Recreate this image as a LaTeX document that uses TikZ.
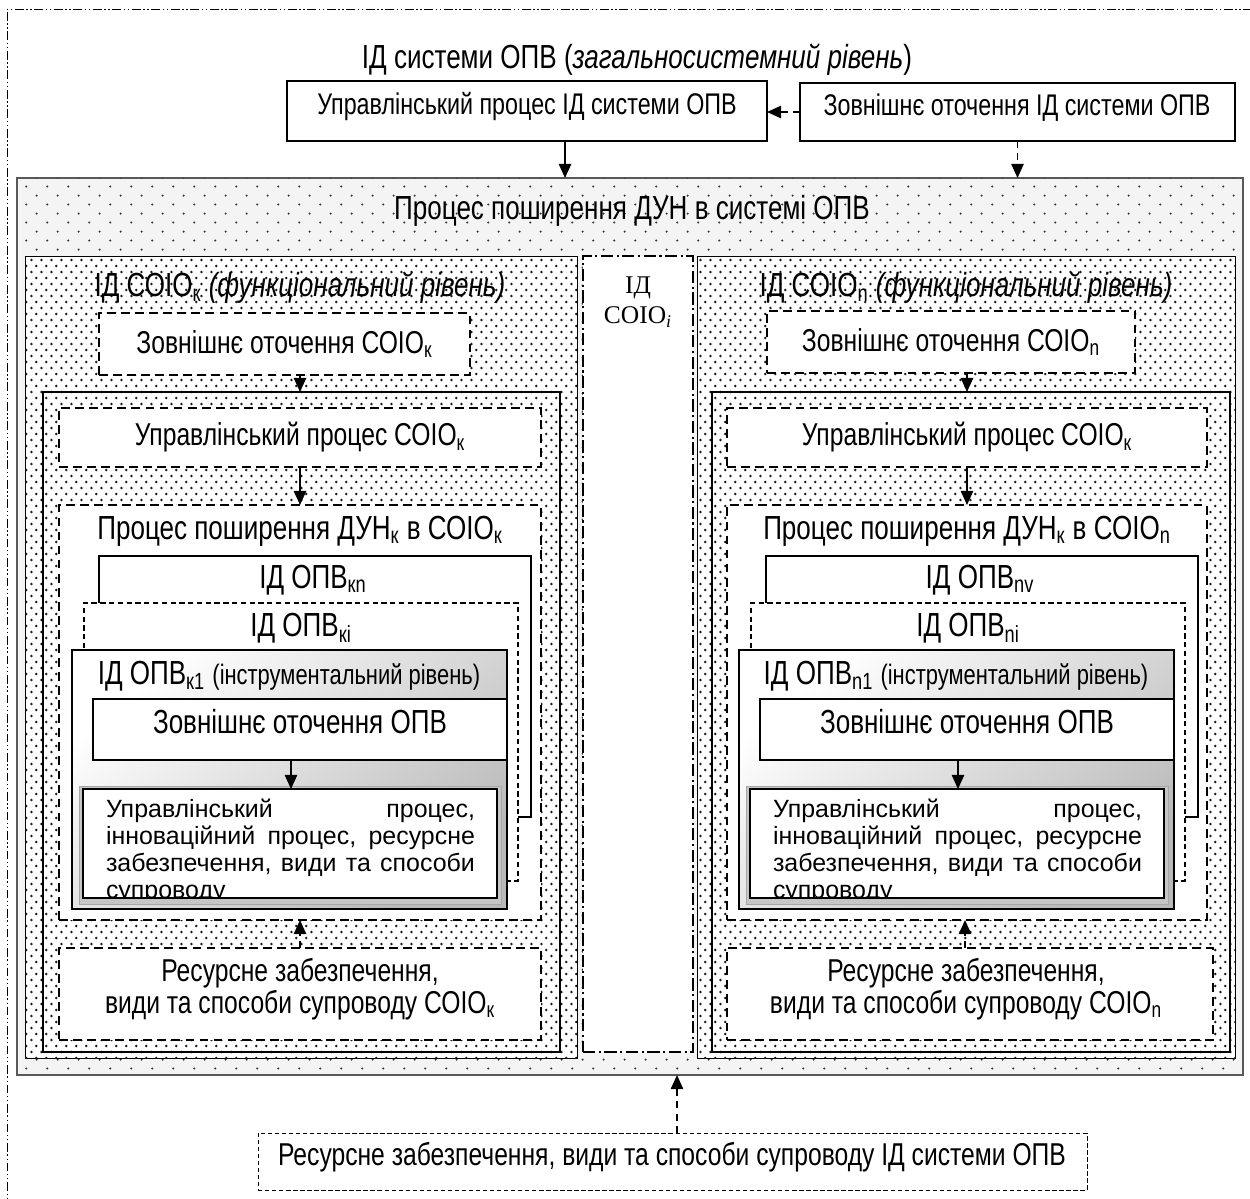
\documentclass[tikz,border=0pt]{standalone}
\usepackage{fontspec}
\setmainfont[FakeStretch=0.78]{Liberation Sans}
\newfontfamily\widesans{Liberation Sans}
\newfontfamily\tnr{Liberation Serif}
\usetikzlibrary{arrows.meta,patterns,fit}

\pgfdeclarepatternformonly{sparsedots}{\pgfpointorigin}{\pgfpoint{11.9pt}{10.2pt}}{\pgfpoint{11.9pt}{10.2pt}}{%
  \pgfpathcircle{\pgfpoint{3pt}{2.55pt}}{0.65pt}%
  \pgfpathcircle{\pgfpoint{8.95pt}{7.65pt}}{0.65pt}%
  \pgfusepath{fill}}
\pgfdeclarepatternformonly{densedots}{\pgfpointorigin}{\pgfpoint{5.6pt}{6.8pt}}{\pgfpoint{5.6pt}{6.8pt}}{%
  \pgfpathcircle{\pgfpoint{1.4pt}{1.7pt}}{0.78pt}%
  \pgfpathcircle{\pgfpoint{4.2pt}{5.1pt}}{0.78pt}%
  \pgfusepath{fill}}

\tikzset{
  every node/.style={inner sep=0pt, outer sep=0pt},
  frame/.style={draw=black, line width=0.5pt, dash pattern=on 5pt off 1.5pt on 0.8pt off 1.5pt on 0.8pt off 1.5pt},
  topbox/.style={draw=black, line width=0.8pt, fill=white},
  bigbox/.style={draw=gray!70!black, line width=0.7pt, fill=gray!9, postaction={pattern=sparsedots, pattern color=black!80}},
  panel/.style={draw=black, line width=0.5pt, fill=white, postaction={pattern=densedots, pattern color=black!90}},
  innerbox/.style={draw=black, line width=0.6pt},
  column/.style={draw=black, line width=1pt, fill=white, dash pattern=on 7pt off 2pt on 1.2pt off 2pt},
  dbox/.style={draw=black, line width=1pt, dash pattern=on 5pt off 3pt, fill=white},
  thindbox/.style={draw=black, line width=0.7pt, dash pattern=on 3pt off 2pt, fill=white},
  bottombox/.style={draw=black, line width=0.5pt, dash pattern=on 2.5pt off 1.5pt, fill=white},
  opvbox/.style={draw=black, line width=0.8pt, fill=white},
  gradbox/.style={draw=black, line width=0.8pt, shading=axis, top color=white, bottom color=gray!55, shading angle=40},
  bevel/.style={draw=gray!70, line width=0.5pt, fill=gray!45},
  whitebox/.style={draw=black, line width=0.8pt, fill=white},
  arr/.style={line width=0.9pt, -{Triangle[length=8pt,width=7pt]}},
  darr/.style={line width=0.9pt, dash pattern=on 4pt off 3pt, -{Triangle[length=8pt,width=7pt]}},
  t19/.style={font=\fontsize{19}{22}\selectfont},
  t18/.style={font=\fontsize{18}{21}\selectfont},
  t17/.style={font=\fontsize{17}{20}\selectfont},
  two/.style={font=\fontsize{18}{13.8}\selectfont, align=center},
  uptext/.style={font=\widesans\fontsize{14.2}{15.3}\selectfont, text width=210pt, align=left},
  sertext/.style={font=\tnr\fontsize{14.5}{17}\selectfont, align=center},
}
\newcommand{\upbody}{%
  \makebox[\linewidth][l]{Управлінський\hfill процес,}\\
  \makebox[\linewidth][l]{інноваційний\hfill процес,\hfill ресурсне}\\
  \makebox[\linewidth][l]{забезпечення,\hfill види\hfill та\hfill способи}\\
  супроводу}

\begin{document}
\begin{tikzpicture}[x=0.02cm,y=-0.02cm]
\useasboundingbox (0,0) rectangle (1250,1198);
\clip (0,0) rectangle (1250,1198);
\fill[white] (0,0) rectangle (1250,1198);

% outer frame
\node[fit={(7,9)(1320,1300)}, frame] (F) {};

% top level
\node[t19] (T) at (637,60) {ІД системи ОПВ (\textit{загальносистемний рівень})};
\node[fit={(287,81)(767,141)}, topbox] (A) {};
\node[t17] (At) at (527,107) {Управлінський процес ІД системи ОПВ};
\node[fit={(800,83)(1235,141)}, topbox] (B) {};
\node[t17] (Bt) at (1017,108) {Зовнішнє оточення ІД системи ОПВ};

% big process box
\node[fit={(17,178)(1243,1075)}, bigbox] (P) {};
\node[t19] (Pt) at (632,211) {Процес поширення ДУН в системі ОПВ};

\coordinate (xa) at (565,0);
\draw[darr] (B.west) -- (B.west -| A.east);
\draw[arr] (A.south -| xa) -- (P.north -| xa);
\draw[darr] (B.south) -- (P.north -| B.south);

% center column
\node[fit={(583,256)(693,1052)}, column] (C) {};
\node[sertext] (Ct) at (638,302) {ІД\\СОІО\textsubscript{\textit{i}}};

%================ left panel
\node[fit={(25,256)(577,1058)}, panel] (L) {};
\node[t19] (Lt) at (300,288) {ІД СОІО\textsubscript{к} \textit{(функціональний рівень)}};
\node[fit={(99,313)(470,375)}, dbox] (EK) {};
\node[t18] (EKt) at (EK.center) {Зовнішнє оточення СОІО\textsubscript{к}};
\node[fit={(43,392)(560,1052)}, innerbox] (IL) {};
\coordinate (xl) at (300,0);
\draw[darr] (EK.south -| xl) -- (IL.north -| xl);

\node[fit={(59,408)(541,467)}, dbox] (UK) {};
\node[t18] (UKt) at (UK.center) {Управлінський процес СОІО\textsubscript{к}};
\node[fit={(59,505)(541,920)}, dbox] (PK) {};
\draw[arr] (UK.south) -- (PK.north);
\node[t19] (PKt) at (300,531) {Процес поширення ДУН\textsubscript{к} в СОІО\textsubscript{к}};

\node[fit={(99,556)(531,817)}, opvbox] (Okn) {};
\node[t19] (Oknt) at (313,580) {ІД ОПВ\textsubscript{кn}};
\node[fit={(84,603)(518,881)}, thindbox] (Oki) {};
\node[t19] (Okit) at (301,628) {ІД ОПВ\textsubscript{кі}};
\node[fit={(72,650)(507,909)}, gradbox] (Ok1) {};
\node[t19] (Ok1t) at (289,676) {ІД ОПВ\textsubscript{к1} {\fontsize{16}{18}\selectfont(інструментальний рівень)}};
\node[fit={(93,699)(507,760)}, whitebox] (EOk) {};
\node[t19] (EOkt) at (300,722) {Зовнішнє оточення ОПВ};
\node[fit={(79,786)(501,904)}, bevel] (UPbk) {};
\node[fit={(83,789)(497,898)}, whitebox] (UPk) {};
\coordinate (xk) at (291,0);
\draw[arr] (EOk.south -| xk) -- (UPk.north -| xk);
\begin{scope}
\clip (UPk.south west) rectangle (UPk.north east);
\node[uptext, anchor=north west] (UPkt) at (106,799) {\upbody};
\end{scope}

\node[fit={(59,948)(541,1040)}, dbox] (RK) {};
\node[two] (RKt) at (300,989) {Ресурсне забезпечення,\\ види та способи супроводу СОІО\textsubscript{к}};
\draw[darr] (RK.north) -- (PK.south);

%================ right panel
\node[fit={(697,256)(1235,1058)}, panel] (R) {};
\node[t19] (Rt) at (966,288) {ІД СОІО\textsubscript{n} \textit{(функціональний рівень)}};
\node[fit={(767,311)(1135,373)}, dbox] (EN) {};
\node[t18] (ENt) at (EN.center) {Зовнішнє оточення СОІО\textsubscript{n}};
\node[fit={(712,392)(1230,1052)}, innerbox] (IR) {};
\coordinate (xr) at (967,0);
\draw[darr] (EN.south -| xr) -- (IR.north -| xr);

\node[fit={(727,408)(1207,467)}, dbox] (UN) {};
\node[t18] (UNt) at (UN.center) {Управлінський процес СОІО\textsubscript{к}};
\node[fit={(727,505)(1207,920)}, dbox] (PN) {};
\draw[arr] (UN.south) -- (PN.north);
\node[t19] (PNt) at (967,531) {Процес поширення ДУН\textsubscript{к} в СОІО\textsubscript{n}};

\node[fit={(766,556)(1198,817)}, opvbox] (Onv) {};
\node[t19] (Onvt) at (980,580) {ІД ОПВ\textsubscript{nv}};
\node[fit={(751,603)(1185,881)}, thindbox] (Oni) {};
\node[t19] (Onit) at (968,628) {ІД ОПВ\textsubscript{ni}};
\node[fit={(739,650)(1174,909)}, gradbox] (On1) {};
\node[t19] (On1t) at (956,676) {ІД ОПВ\textsubscript{n1} {\fontsize{16}{18}\selectfont(інструментальний рівень)}};
\node[fit={(760,699)(1174,760)}, whitebox] (EOn) {};
\node[t19] (EOnt) at (967,722) {Зовнішнє оточення ОПВ};
\node[fit={(746,786)(1168,904)}, bevel] (UPbn) {};
\node[fit={(750,789)(1164,898)}, whitebox] (UPn) {};
\coordinate (xn) at (958,0);
\draw[arr] (EOn.south -| xn) -- (UPn.north -| xn);
\begin{scope}
\clip (UPn.south west) rectangle (UPn.north east);
\node[uptext, anchor=north west] (UPnt) at (773,799) {\upbody};
\end{scope}

\node[fit={(727,948)(1213,1040)}, dbox] (RN) {};
\node[two] (RNt) at (966,989) {Ресурсне забезпечення,\\ види та способи супроводу СОІО\textsubscript{n}};
\coordinate (xrn) at (965,0);
\draw[darr] (RN.north -| xrn) -- (PN.south -| xrn);

%================ bottom
\node[fit={(258,1133)(1087,1190)}, bottombox] (Bot) {};
\node[t18] (Bott) at (672,1157) {Ресурсне забезпечення, види та способи супроводу ІД системи ОПВ};
\coordinate (xb) at (677,0);
\draw[darr] (Bot.north -| xb) -- (P.south -| xb);
\end{tikzpicture}
\end{document}
